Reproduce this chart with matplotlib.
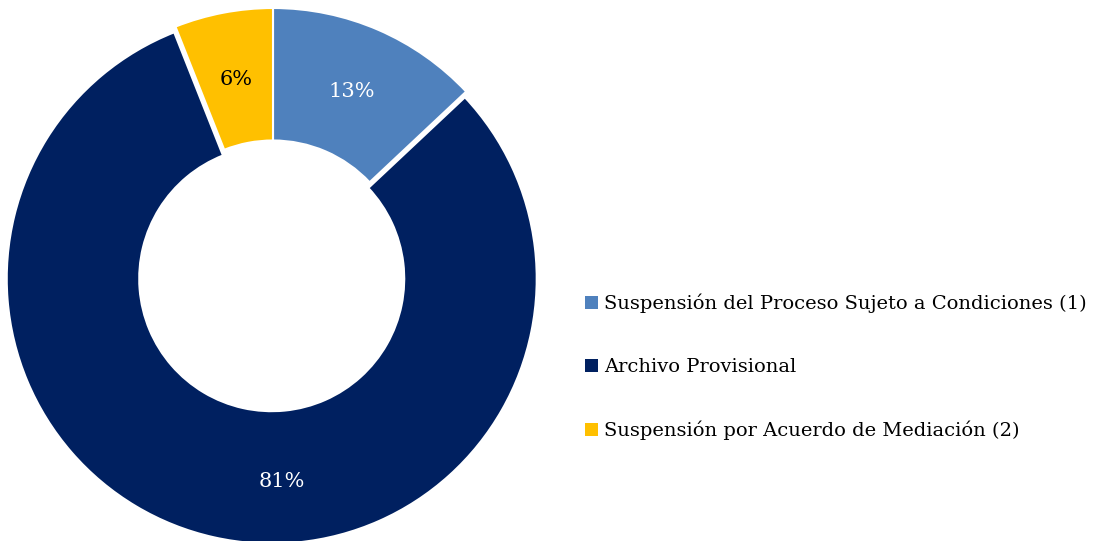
import numpy as np
import matplotlib.pyplot as plt
from matplotlib.patches import Patch

# slices in order, clockwise from the top
categories = ["Suspensión del Proceso Sujeto a Condiciones (1)",
              "Archivo Provisional",
              "Suspensión por Acuerdo de Mediación (2)"]
values = [13, 81, 6]
colors = ["#4F81BD", "#002060", "#FFC000"]
label_colors = ["white", "white", "black"]
explode = [0, 0.022, 0]

plt.rcParams['font.family'] = ['DejaVu Serif']

fig = plt.figure(figsize=(10.99, 5.41), dpi=100)
# axes placed so the ring centre sits at about (273, 273) px, radius 265 px
ax = fig.add_axes([8 / 1099, 3 / 541, 530 / 1099, 530 / 541])

wedges, texts, autotexts = ax.pie(
    values, colors=colors, startangle=90, counterclock=False,
    explode=explode, autopct='%1.0f%%', pctdistance=0.745,
    wedgeprops=dict(width=0.5, edgecolor='white', linewidth=1.5),
    textprops=dict(fontsize=15))
for t, c in zip(autotexts, label_colors):
    t.set_color(c)
# the big label sits lower, near the bottom of the ring
autotexts[1].set_position((0.035, -0.785))

ax.set_xlim(-1, 1)
ax.set_ylim(-1, 1)
ax.set_aspect('equal')
for w in wedges:
    w.set_clip_on(False)

handles = [Patch(facecolor=c, edgecolor='none') for c in colors]
fig.legend(handles, categories, loc='center left',
           bbox_to_anchor=(585 / 1099, 1 - 367 / 541),
           frameon=False, fontsize=14, labelspacing=2.3,
           handlelength=0.67, handleheight=0.67, handletextpad=0.3,
           borderpad=0, borderaxespad=0)

fig.savefig("out.png", dpi=100)
